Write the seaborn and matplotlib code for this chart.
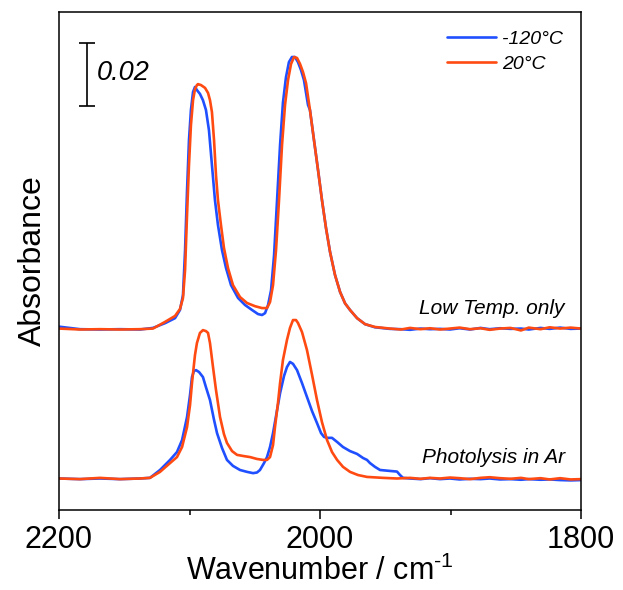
import matplotlib
matplotlib.use("Agg")
import matplotlib.pyplot as plt
import seaborn as sns
import pandas as pd

# ---- IR spectra (wavenumber in cm^-1, absorbance relative to each trace's baseline) ----
# Low temperature only, -120 °C
wn_lt_cold = [2200, 2183.9, 2168.6, 2153.3, 2137.9, 2128.0, 2118.8, 2111.1, 2107.3, 2105.0,
              2103.4, 2101.9, 2100.4, 2098.9, 2097.3, 2095.8, 2094.3, 2092.0, 2089.7, 2087.4,
              2085.1, 2082.8, 2080.5, 2078.2, 2075.1, 2072.0, 2068.2, 2062.8, 2057.5, 2052.1,
              2047.5, 2044.4, 2042.1, 2039.8, 2037.5, 2035.2, 2032.9, 2030.6, 2028.4, 2026.1,
              2023.8, 2021.5, 2019.2, 2016.9, 2014.6, 2012.3, 2009.2, 2007.7, 2004.6, 2001.5,
              1998.5, 1995.4, 1992.3, 1988.5, 1984.6, 1980.8, 1977.0, 1971.6, 1965.5, 1957.9,
              1946.4, 1938.0, 1931.0, 1923.0, 1915.7, 1908.0, 1900.4, 1893.0, 1885.0, 1877.0,
              1870.0, 1862.0, 1854.0, 1846.0, 1840.0, 1831.0, 1824.0, 1816.0, 1808.0, 1800.0]
abs_lt_cold = [0.0006, -0.0002, -0.0003, -0.0002, -0.0003, 0.0002, 0.0017, 0.0033, 0.0059, 0.0106,
               0.0248, 0.0437, 0.0598, 0.0694, 0.0751, 0.0767, 0.0757, 0.0745, 0.0725, 0.0694,
               0.0630, 0.0519, 0.0408, 0.0329, 0.0249, 0.0192, 0.0138, 0.0097, 0.0075, 0.0059,
               0.0046, 0.0043, 0.0049, 0.0075, 0.0122, 0.0233, 0.0408, 0.0583, 0.0717, 0.0797,
               0.0846, 0.0862, 0.0862, 0.0846, 0.0821, 0.0789, 0.0710, 0.0694, 0.0598, 0.0503,
               0.0408, 0.0319, 0.0243, 0.0170, 0.0116, 0.0080, 0.0059, 0.0033, 0.0014, 0.0004,
               -0.0001, -0.0002, -0.0004, 0.0000, -0.0002, -0.0001, -0.0003, 0.0001, -0.0003, 0.0002,
               -0.0002, 0.0001, -0.0001, 0.0000, -0.0003, 0.0002, -0.0001, 0.0003, -0.0001, 0.0000]

# Low temperature only, 20 °C
wn_lt_warm = [2200, 2183.9, 2168.6, 2153.3, 2137.9, 2128.0, 2118.8, 2111.1, 2107.3, 2105.0,
              2103.4, 2101.9, 2100.4, 2098.9, 2097.3, 2095.8, 2094.3, 2093.5, 2091.2, 2088.1,
              2085.8, 2084.3, 2082.8, 2081.2, 2079.7, 2078.2, 2075.9, 2073.6, 2070.5, 2066.7,
              2061.3, 2055.9, 2049.8, 2044.4, 2040.6, 2038.3, 2036.0, 2033.7, 2031.4, 2029.1,
              2026.8, 2024.5, 2022.2, 2019.9, 2017.6, 2015.3, 2013.0, 2010.7, 2007.7, 2004.6,
              2001.5, 1998.5, 1995.4, 1992.3, 1988.5, 1984.6, 1980.8, 1977.0, 1971.6, 1965.5,
              1957.9, 1946.4, 1938.0, 1931.0, 1923.0, 1915.7, 1908.0, 1900.4, 1893.0, 1885.0,
              1877.0, 1870.0, 1862.0, 1854.0, 1846.0, 1840.0, 1831.0, 1824.0, 1816.0, 1808.0,
              1800.0]
abs_lt_warm = [0.0000, -0.0003, -0.0002, -0.0003, -0.0002, 0.0000, 0.0021, 0.0040, 0.0062, 0.0097,
               0.0186, 0.0360, 0.0519, 0.0646, 0.0725, 0.0760, 0.0773, 0.0776, 0.0773, 0.0764,
               0.0748, 0.0725, 0.0687, 0.0598, 0.0487, 0.0408, 0.0329, 0.0256, 0.0192, 0.0138,
               0.0100, 0.0081, 0.0071, 0.0065, 0.0065, 0.0084, 0.0138, 0.0249, 0.0408, 0.0583,
               0.0710, 0.0789, 0.0840, 0.0862, 0.0859, 0.0840, 0.0814, 0.0779, 0.0694, 0.0598,
               0.0503, 0.0408, 0.0319, 0.0243, 0.0170, 0.0116, 0.0080, 0.0059, 0.0033, 0.0014,
               0.0005, 0.0000, -0.0003, 0.0002, -0.0002, 0.0001, -0.0003, 0.0000, 0.0003, -0.0002,
               0.0001, -0.0004, 0.0000, 0.0002, -0.0006, 0.0003, -0.0002, 0.0004, 0.0000, 0.0003,
               0.0000]

# Photolysis in Ar, -120 °C
wn_ph_cold = [2200, 2183.9, 2168.6, 2153.3, 2137.9, 2130.3, 2122.6, 2114.9, 2109.6, 2105.7,
              2101.9, 2099.6, 2098.1, 2096.6, 2095.0, 2092.7, 2089.7, 2087.4, 2084.3, 2081.2,
              2078.9, 2075.1, 2071.3, 2066.7, 2061.3, 2055.9, 2051.3, 2048.3, 2046.0, 2042.9,
              2040.6, 2038.3, 2036.0, 2032.9, 2030.6, 2027.6, 2025.3, 2023.0, 2020.7, 2017.6,
              2013.8, 2010.0, 2006.1, 2002.3, 1999.2, 1996.9, 1994.6, 1990.8, 1986.9, 1982.4,
              1977.0, 1971.6, 1967.0, 1964.0, 1961.7, 1957.9, 1954.0, 1946.4, 1941.0, 1938.7,
              1936.4, 1931.0, 1923.0, 1915.7, 1908.0, 1900.4, 1893.0, 1885.0, 1877.0, 1870.0,
              1862.0, 1854.0, 1846.0, 1840.0, 1831.0, 1824.0, 1816.0, 1808.0, 1800.0]
abs_ph_cold = [0.0000, -0.0002, 0.0000, -0.0002, 0.0000, 0.0002, 0.0027, 0.0059, 0.0084, 0.0122,
               0.0195, 0.0265, 0.0322, 0.0341, 0.0344, 0.0338, 0.0322, 0.0290, 0.0249, 0.0186,
               0.0144, 0.0097, 0.0059, 0.0040, 0.0027, 0.0021, 0.0017, 0.0019, 0.0027, 0.0049,
               0.0068, 0.0100, 0.0144, 0.0217, 0.0271, 0.0325, 0.0354, 0.0370, 0.0364, 0.0344,
               0.0303, 0.0259, 0.0214, 0.0176, 0.0144, 0.0132, 0.0129, 0.0129, 0.0116, 0.0100,
               0.0087, 0.0078, 0.0065, 0.0059, 0.0049, 0.0037, 0.0027, 0.0024, 0.0022, 0.0011,
               0.0002, 0.0000, -0.0002, 0.0001, -0.0002, 0.0000, -0.0003, -0.0001, -0.0002, 0.0000,
               -0.0003, -0.0002, -0.0004, -0.0002, -0.0004, -0.0003, -0.0005, -0.0006, -0.0005]

# Photolysis in Ar, 20 °C
wn_ph_warm = [2200, 2183.9, 2168.6, 2153.3, 2137.9, 2130.3, 2122.6, 2114.9, 2109.6, 2105.7,
              2101.9, 2099.6, 2098.1, 2095.8, 2094.3, 2092.0, 2089.7, 2087.4, 2085.8, 2084.3,
              2082.0, 2079.7, 2076.6, 2073.6, 2071.3, 2067.4, 2063.6, 2058.2, 2053.6, 2048.3,
              2043.7, 2040.6, 2038.3, 2036.0, 2034.5, 2032.2, 2030.6, 2028.4, 2025.3, 2023.0,
              2020.7, 2018.4, 2016.9, 2013.8, 2010.0, 2006.1, 2002.3, 1998.5, 1994.6, 1990.8,
              1986.9, 1982.4, 1977.0, 1970.9, 1964.0, 1951.7, 1941.0, 1931.0, 1923.0, 1915.7,
              1908.0, 1900.4, 1893.0, 1885.0, 1877.0, 1870.0, 1862.0, 1854.0, 1846.0, 1840.0,
              1831.0, 1824.0, 1816.0, 1808.0, 1800.0]
abs_ph_warm = [0.0000, -0.0002, 0.0002, -0.0002, 0.0000, 0.0002, 0.0021, 0.0049, 0.0068, 0.0100,
               0.0163, 0.0233, 0.0303, 0.0392, 0.0430, 0.0462, 0.0471, 0.0468, 0.0462, 0.0430,
               0.0354, 0.0281, 0.0195, 0.0141, 0.0113, 0.0087, 0.0075, 0.0071, 0.0068, 0.0062,
               0.0059, 0.0059, 0.0068, 0.0106, 0.0163, 0.0240, 0.0303, 0.0376, 0.0440, 0.0478,
               0.0503, 0.0503, 0.0494, 0.0465, 0.0408, 0.0329, 0.0249, 0.0179, 0.0122, 0.0084,
               0.0059, 0.0037, 0.0021, 0.0011, 0.0005, 0.0002, 0.0000, 0.0002, -0.0001, 0.0002,
               0.0000, 0.0003, 0.0001, -0.0002, 0.0002, 0.0004, 0.0001, -0.0001, 0.0002, -0.0002,
               0.0001, -0.0003, 0.0001, -0.0003, -0.0002]

# vertical stacking offsets of the two spectrum pairs
offset_lt = 0.0576
offset_ph = 0.0100

labels_temp = ["-120°C", "20°C"]
color_cold = "#1f4fff"
color_warm = "#ff4a12"

scale_bar_value = 0.02

sns.set_style("ticks")
plt.rcParams["font.family"] = ["Liberation Sans", "DejaVu Sans"]
plt.rcParams["mathtext.fontset"] = "custom"
plt.rcParams["mathtext.rm"] = "Liberation Sans"
plt.rcParams["text.color"] = "black"
plt.rcParams["axes.labelcolor"] = "black"
plt.rcParams["xtick.color"] = "black"
plt.rcParams["ytick.color"] = "black"

fig = plt.figure(figsize=(6.23, 5.90), dpi=100)
ax = fig.add_axes([0.0947, 0.1356, 0.8379, 0.8441])


def trace(wn, ab, offset, color, label=None):
    df = pd.DataFrame({"wn": wn, "absorb": [a + offset for a in ab]})
    sns.lineplot(data=df, x="wn", y="absorb", ax=ax, color=color, lw=1.9,
                 sort=False, estimator=None, label=label, legend=False)


trace(wn_lt_cold, abs_lt_cold, offset_lt, color_cold, labels_temp[0])
trace(wn_ph_cold, abs_ph_cold, offset_ph, color_cold)
trace(wn_lt_warm, abs_lt_warm, offset_lt, color_warm, labels_temp[1])
trace(wn_ph_warm, abs_ph_warm, offset_ph, color_warm)

ax.set_xlim(2200, 1800)
ax.set_ylim(0, 0.1581)
ax.set_xticks([2200, 2000, 1800])
ax.set_xticklabels(["2200", "2000", "1800"])
ax.set_xticks([2100, 1900], minor=True)
ax.set_yticks([])
ax.tick_params(axis="x", which="major", length=6.5, width=1.1, labelsize=22, pad=4,
               color="black", labelcolor="black")
ax.tick_params(axis="x", which="minor", length=3.5, width=1.1, color="black")
for s in ax.spines.values():
    s.set_linewidth(1.1)
    s.set_color("black")

ax.set_xlabel(r"Wavenumber / cm$^{\text{-1}}$", fontsize=22, labelpad=1, color="black")
ax.set_ylabel("Absorbance", fontsize=23, labelpad=8, color="black")

# absorbance scale bar
bar_x = 2178.8
bar_bottom = 0.1284
ax.errorbar([bar_x], [bar_bottom + scale_bar_value / 2], yerr=[scale_bar_value / 2],
            fmt="none", ecolor="black", elinewidth=1.2, capsize=6, capthick=1.2)
ax.text(2171.0, 0.1387, f"{scale_bar_value:.2f}", fontsize=19.5, style="italic",
        ha="left", va="center", color="black")

# trace annotations
ax.text(1813.0, 0.0641, "Low Temp. only", fontsize=15, style="italic", ha="right",
        va="center", color="black")
ax.text(1812.3, 0.0168, "Photolysis in Ar", fontsize=15, style="italic", ha="right",
        va="center", color="black")

leg = ax.legend(loc="upper right", bbox_to_anchor=(0.966, 0.964), frameon=False,
                fontsize=14, handlelength=2.55, handletextpad=0.3, labelspacing=0.4,
                borderpad=0, borderaxespad=0)
for t in leg.get_texts():
    t.set_fontstyle("italic")
    t.set_color("black")

fig.savefig("out.png", dpi=100)
